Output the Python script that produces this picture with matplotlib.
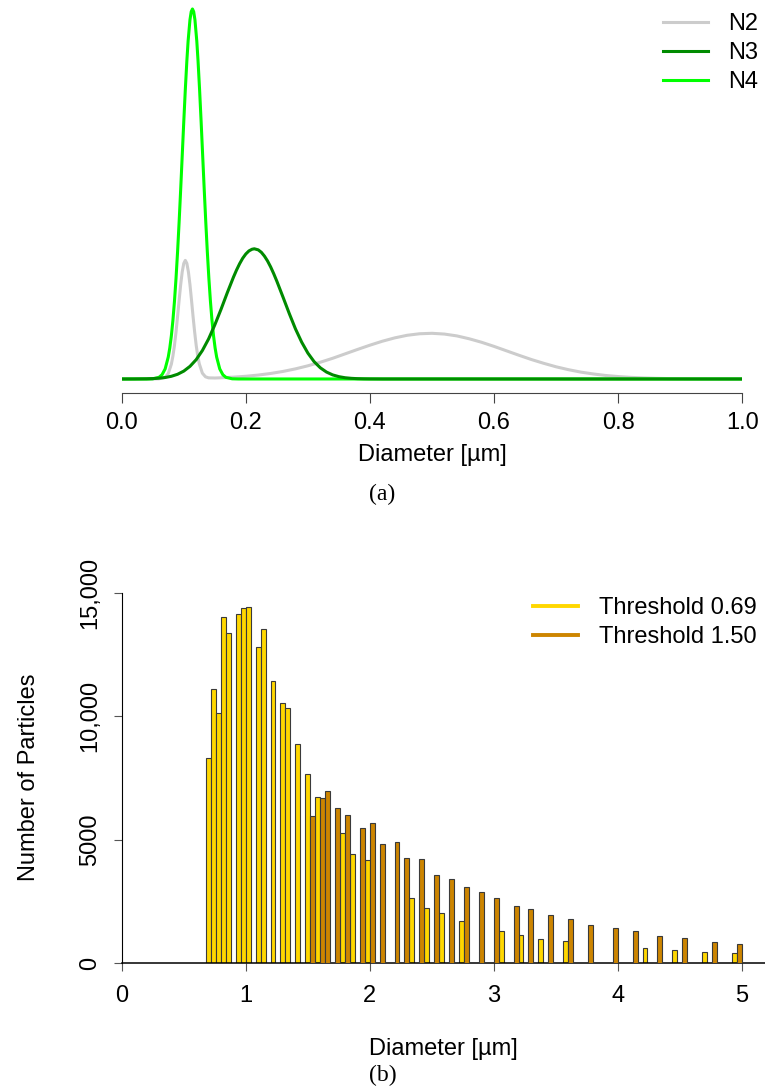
import matplotlib
matplotlib.use('Agg')
import matplotlib.pyplot as plt
from matplotlib.lines import Line2D

plt.rcParams['font.family'] = ['Liberation Sans', 'DejaVu Sans']

# (a) size distributions (arbitrary density units)
n2_x = [0.0, 0.05, 0.06, 0.07, 0.075, 0.08, 0.0825, 0.085, 0.0875, 0.09,
        0.0925, 0.095, 0.0975, 0.1, 0.1025, 0.105, 0.1075, 0.11, 0.1125,
        0.115, 0.1175, 0.12, 0.1225, 0.125, 0.13, 0.135, 0.14, 0.15, 0.16,
        0.18, 0.2, 0.22, 0.24, 0.26, 0.28, 0.3, 0.32, 0.34, 0.36, 0.38, 0.4,
        0.42, 0.44, 0.46, 0.48, 0.5, 0.52, 0.54, 0.56, 0.58, 0.6, 0.62, 0.64,
        0.66, 0.68, 0.7, 0.72, 0.74, 0.76, 0.78, 0.8, 0.82, 0.84, 0.86, 0.88,
        0.9, 0.95, 1.0]
n2_y = [0.001, 0.005, 0.011, 0.108, 0.351, 0.972, 1.5, 2.2, 3.08, 4.09, 5.16,
        6.18, 7.03, 7.59, 7.79, 7.59, 7.03, 6.19, 5.17, 4.1, 3.1, 2.22, 1.52,
        1.0, 0.381, 0.144, 0.074, 0.064, 0.079, 0.12, 0.178, 0.258, 0.362,
        0.497, 0.665, 0.866, 1.1, 1.36, 1.65, 1.94, 2.22, 2.48, 2.7, 2.87,
        2.97, 3.0, 2.95, 2.83, 2.64, 2.41, 2.14, 1.85, 1.56, 1.28, 1.03, 0.8,
        0.61, 0.45, 0.33, 0.23, 0.16, 0.107, 0.07, 0.044, 0.027, 0.017, 0.005,
        0.001]

n3_x = [0.0, 0.02, 0.04, 0.05, 0.06, 0.07, 0.08, 0.09, 0.1, 0.11, 0.12, 0.13,
        0.14, 0.15, 0.16, 0.17, 0.18, 0.185, 0.19, 0.195, 0.2, 0.205, 0.21,
        0.2137, 0.22, 0.225, 0.23, 0.235, 0.24, 0.245, 0.25, 0.26, 0.27, 0.28,
        0.29, 0.3, 0.31, 0.32, 0.33, 0.34, 0.35, 0.36, 0.37, 0.38, 0.39, 0.4,
        0.42, 1.0]
n3_y = [0.0, 0.0025, 0.012, 0.026, 0.051, 0.097, 0.177, 0.309, 0.517, 0.829,
        1.27, 1.87, 2.63, 3.55, 4.57, 5.65, 6.68, 7.15, 7.57, 7.93, 8.21, 8.41,
        8.52, 8.55, 8.48, 8.32, 8.07, 7.75, 7.36, 6.91, 6.42, 5.37, 4.3, 3.29,
        2.42, 1.7, 1.14, 0.736, 0.454, 0.268, 0.152, 0.082, 0.043, 0.021, 0.01,
        0.005, 0.001, 0.0]

n4_x = [0.0, 0.04, 0.05, 0.06, 0.065, 0.07, 0.075, 0.0775, 0.08, 0.0825,
        0.085, 0.0875, 0.09, 0.0925, 0.095, 0.0975, 0.1, 0.1025, 0.105, 0.107,
        0.11, 0.112, 0.114, 0.116, 0.118, 0.121, 0.123, 0.1255, 0.128, 0.1305,
        0.133, 0.1355, 0.138, 0.1405, 0.143, 0.1455, 0.148, 0.1505, 0.153,
        0.158, 0.163, 0.168, 0.178, 0.188, 1.0]
n4_y = [0.0, 0.001, 0.012, 0.107, 0.28, 0.66, 1.44, 2.04, 2.83, 3.84, 5.09,
        6.59, 8.33, 10.29, 12.42, 14.65, 16.88, 19.0, 20.9, 22.19, 23.59,
        24.12, 24.3, 24.12, 23.59, 22.19, 20.9, 19.0, 16.88, 14.65, 12.42,
        10.29, 8.33, 6.59, 5.09, 3.84, 2.83, 2.04, 1.44, 0.66, 0.28, 0.107,
        0.012, 0.001, 0.0]

# (b) number of particles per diameter class
thr069_d = [0.70, 0.74, 0.78, 0.82, 0.86, 0.94, 0.98, 1.02, 1.10, 1.14, 1.22,
            1.30, 1.34, 1.42, 1.50, 1.58, 1.78, 1.86, 1.98, 2.34, 2.46, 2.58,
            2.74, 3.06, 3.22, 3.38, 3.58, 4.22, 4.46, 4.70, 4.94]
thr069_n = [8300, 11110, 10150, 14040, 13370, 14150, 14380, 14420, 12830,
            13560, 11450, 10560, 10350, 8870, 7650, 6720, 5270, 4430, 4160,
            2635, 2240, 2030, 1700, 1300, 1120, 985, 905, 620, 515, 446, 418]

thr150_d = [1.54, 1.62, 1.66, 1.74, 1.82, 1.94, 2.02, 2.10, 2.22, 2.30, 2.42,
            2.54, 2.66, 2.78, 2.90, 3.02, 3.18, 3.30, 3.46, 3.62, 3.78, 3.98,
            4.14, 4.34, 4.54, 4.78, 4.98]
thr150_n = [5970, 6700, 6960, 6285, 6015, 5460, 5680, 4810, 4920, 4245, 4217,
            3570, 3420, 3080, 2865, 2635, 2325, 2190, 1933, 1770, 1555, 1420,
            1300, 1080, 1000, 865, 783]

W, H = 765, 1090
fig = plt.figure(figsize=(W / 100, H / 100), dpi=100)

# ----- panel (a) -----
ax1 = fig.add_axes([121.7 / W, 1 - 393.3 / H, (742.3 - 121.7) / W, (393.3 - 5) / H])
ax1.plot(n2_x, n2_y, color='#cccccc', lw=2.2, label='N2', zorder=2)
ax1.plot(n4_x, n4_y, color='#00ff00', lw=2.2, label='N4', zorder=3)
ax1.plot(n3_x, n3_y, color='#008b00', lw=2.2, label='N3', zorder=4)
ax1.set_xlim(0, 1)
ax1.set_ylim(-0.94, 24.56)
for s in ['left', 'right', 'top']:
    ax1.spines[s].set_visible(False)
ax1.spines['bottom'].set_bounds(0, 1)
ax1.spines['bottom'].set_color('#444444')
ax1.set_yticks([])
ax1.set_xticks([0, 0.2, 0.4, 0.6, 0.8, 1.0])
ax1.set_xticklabels(['0.0', '0.2', '0.4', '0.6', '0.8', '1.0'])
ax1.tick_params(axis='x', length=7, width=0.8, color='#444444', pad=6.5, labelsize=17)
ax1.set_xlabel('Diameter [µm]', fontsize=17, labelpad=7)

h, l = ax1.get_legend_handles_labels()
order = [l.index('N2'), l.index('N3'), l.index('N4')]
ax1.legend([h[i] for i in order], [l[i] for i in order], loc='upper right',
           bbox_to_anchor=(758 / W, 1 - 13 / H), bbox_transform=fig.transFigure,
           frameon=False, fontsize=17, handlelength=1.9, handletextpad=0.85,
           labelspacing=0.3, borderpad=0, borderaxespad=0)

fig.text(0.5, 1 - 494 / H, '(a)', ha='center', va='center', fontsize=17,
         family=['Liberation Serif', 'DejaVu Serif'])

# ----- panel (b) -----
ax2 = fig.add_axes([121.7 / W, 1 - 963 / H, (W - 121.7) / W, 370 / H])
ax2.bar(thr069_d, thr069_n, width=0.04, color='#ffd700', edgecolor='#3a3a3a',
        linewidth=0.8, zorder=2)
ax2.bar(thr150_d, thr150_n, width=0.04, color='#cd8500', edgecolor='#3a3a3a',
        linewidth=0.8, zorder=3)
ax2.set_xlim(0, (W - 121.7) / 124)
ax2.set_ylim(0, 15000)
for s in ['right', 'top']:
    ax2.spines[s].set_visible(False)
ax2.spines['bottom'].set_linewidth(1.1)
ax2.set_xticks([0, 1, 2, 3, 4, 5])
ax2.set_xticklabels(['0', '1', '2', '3', '4', '5'])
ax2.set_yticks([0, 5000, 10000, 15000])
ax2.set_yticklabels(['0', '5000', '10,000', '15,000'], rotation=90, va='center')
ax2.tick_params(axis='x', length=6, width=0.8, color='#555555', pad=10, labelsize=17)
ax2.tick_params(axis='y', length=6, width=0.8, color='#555555', pad=9, labelsize=17)
ax2.set_xlabel('Diameter [µm]', fontsize=17, labelpad=22)
fig.text(29 / W, 1 - 777.5 / H, 'Number of Particles', rotation=90,
         ha='center', va='center', fontsize=17)

leg_handles = [Line2D([], [], color='#ffd700', lw=2.8),
               Line2D([], [], color='#cd8500', lw=2.8)]
ax2.legend(leg_handles, ['Threshold 0.69', 'Threshold 1.50'], loc='upper right',
           bbox_to_anchor=(757 / W, 1 - 597 / H), bbox_transform=fig.transFigure,
           frameon=False, fontsize=17, handlelength=1.9, handletextpad=0.9,
           labelspacing=0.3, borderpad=0, borderaxespad=0)

fig.text(0.5, 1 - 1075 / H, '(b)', ha='center', va='center', fontsize=17,
         family=['Liberation Serif', 'DejaVu Serif'])

fig.savefig('out.png', dpi=100)
